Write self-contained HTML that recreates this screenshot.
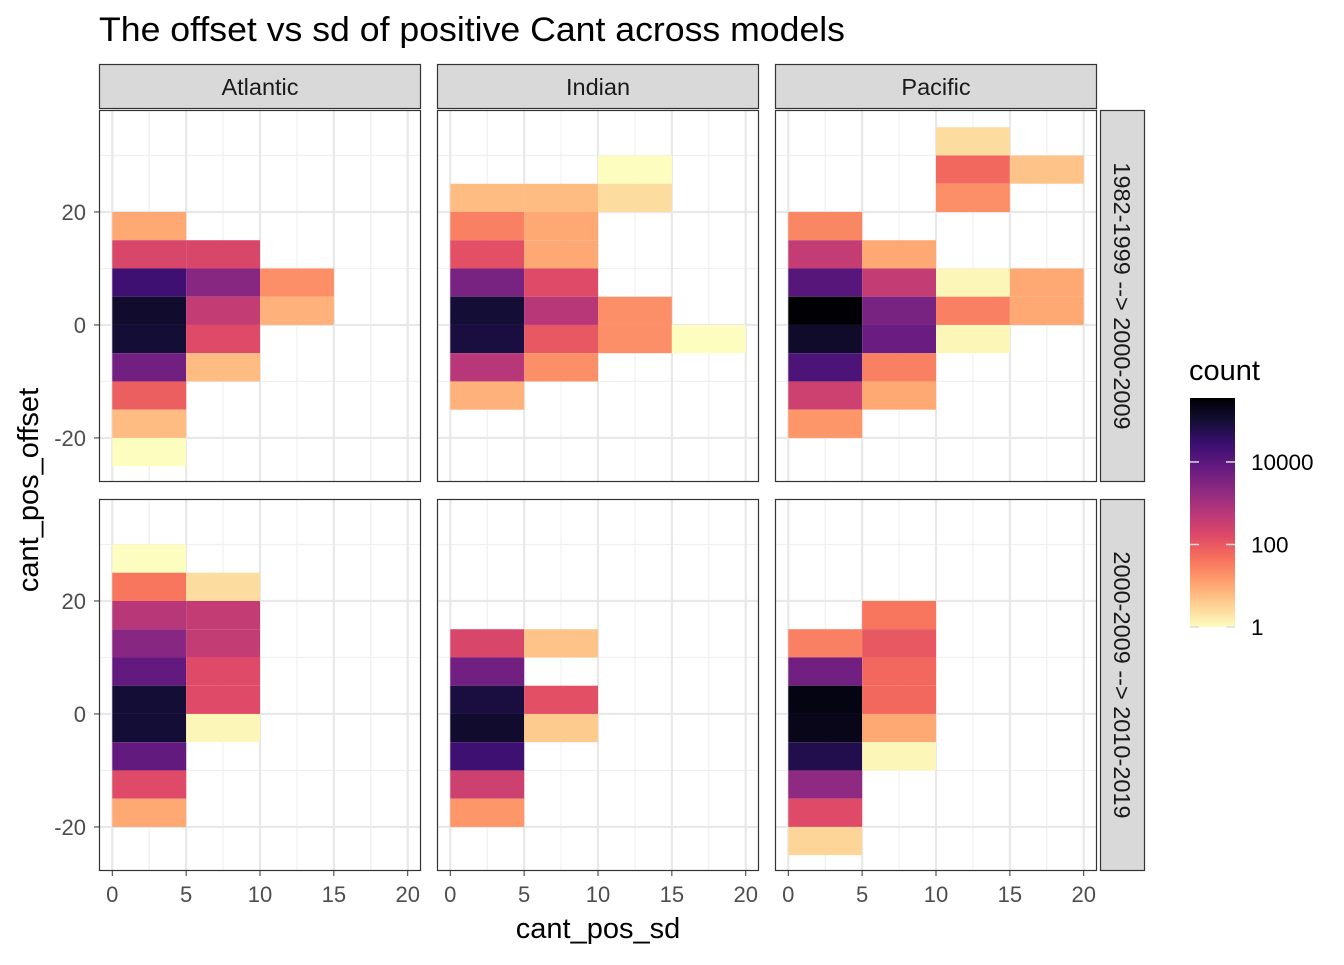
<!DOCTYPE html>
<html><head><meta charset="utf-8"><style>
body{margin:0;background:#fff;}
svg text{font-family:"Liberation Sans",sans-serif;}
</style></head><body>
<svg id="c" width="1344" height="960" xmlns="http://www.w3.org/2000/svg">
<defs><linearGradient id="cb" x1="0" y1="1" x2="0" y2="0"></linearGradient></defs>
<text x="99" y="41" font-size="34" textLength="746" lengthAdjust="spacingAndGlyphs" fill="#000">The offset vs sd of positive Cant across models</text>
<text x="598" y="938" font-size="29" text-anchor="middle">cant_pos_sd</text>
<text transform="translate(38,490) rotate(-90)" font-size="29" text-anchor="middle">cant_pos_offset</text>
<text x="1189" y="380" font-size="29">count</text>
</svg>
<script>
const basins = ["Atlantic","Indian","Pacific"];
const periods = ["1982-1999 --> 2000-2009","2000-2009 --> 2010-2019"];
const xTicks = [0,5,10,15,20];
const yTicks = [-20,0,20];
const legendTicks = [1,100,10000];
const cellPeriod = [];
const cellBasin = [];
const cellSd = [];
const cellOffset = [];
const cellCount = [];
function add(p,b,sd,off,c){cellPeriod.push(p);cellBasin.push(b);cellSd.push(sd);cellOffset.push(off);cellCount.push(c);}
add(0,0,0,15,10);add(0,0,0,10,200);add(0,0,0,5,25000);add(0,0,0,0,120000);add(0,0,0,-5,100000);add(0,0,0,-10,5000);add(0,0,0,-15,80);add(0,0,0,-20,6);add(0,0,0,-25,1);
add(0,0,5,10,200);add(0,0,5,5,2500);add(0,0,5,0,400);add(0,0,5,-5,160);add(0,0,5,-10,6);
add(0,0,10,5,20);add(0,0,10,0,8);
add(0,1,0,20,6);add(0,1,0,15,30);add(0,1,0,10,130);add(0,1,0,5,4000);add(0,1,0,0,100000);add(0,1,0,-5,80000);add(0,1,0,-10,600);add(0,1,0,-15,8);
add(0,1,5,20,6);add(0,1,5,15,10);add(0,1,5,10,10);add(0,1,5,5,160);add(0,1,5,0,600);add(0,1,5,-5,100);add(0,1,5,-10,20);
add(0,1,10,25,1);add(0,1,10,20,2.5);add(0,1,10,0,20);add(0,1,10,-5,20);
add(0,1,15,-5,1);
add(0,2,0,15,25);add(0,2,0,10,400);add(0,2,0,5,12000);add(0,2,0,0,350000);add(0,2,0,-5,130000);add(0,2,0,-10,16000);add(0,2,0,-15,300);add(0,2,0,-20,16);
add(0,2,5,10,10);add(0,2,5,5,400);add(0,2,5,0,4000);add(0,2,5,-5,6300);add(0,2,5,-10,30);add(0,2,5,-15,10);
add(0,2,10,30,2.5);add(0,2,10,25,60);add(0,2,10,20,20);add(0,2,10,5,1.2);add(0,2,10,0,30);add(0,2,10,-5,1.2);
add(0,2,15,25,5);add(0,2,15,5,10);add(0,2,15,0,10);
add(1,0,0,25,1);add(1,0,0,20,40);add(1,0,0,15,600);add(1,0,0,10,2500);add(1,0,0,5,8000);add(1,0,0,0,100000);add(1,0,0,-5,100000);add(1,0,0,-10,8000);add(1,0,0,-15,160);add(1,0,0,-20,10);
add(1,0,5,20,2.5);add(1,0,5,15,400);add(1,0,5,10,400);add(1,0,5,5,160);add(1,0,5,0,160);add(1,0,5,-5,1.2);
add(1,1,0,10,200);add(1,1,0,5,5000);add(1,1,0,0,80000);add(1,1,0,-5,120000);add(1,1,0,-10,25000);add(1,1,0,-15,300);add(1,1,0,-20,16);
add(1,1,5,10,5);add(1,1,5,0,130);add(1,1,5,-5,4);
add(1,2,0,10,30);add(1,2,0,5,5000);add(1,2,0,0,250000);add(1,2,0,-5,200000);add(1,2,0,-10,60000);add(1,2,0,-15,2000);add(1,2,0,-20,160);add(1,2,0,-25,3);
add(1,2,5,15,40);add(1,2,5,10,100);add(1,2,5,5,60);add(1,2,5,0,60);add(1,2,5,-5,10);add(1,2,5,-10,1.2);

const NS="http://www.w3.org/2000/svg";
const svg=document.getElementById('c');
function el(t,a,p){const e=document.createElementNS(NS,t);for(const k in a)e.setAttribute(k,a[k]);(p||svg).appendChild(e);return e;}
const magma=["#000004","#140e36","#3b0f70","#641a80","#8c2981","#b73779","#de4968","#f7705c","#fe9f6d","#fecf92","#fcfdbf"];
function hex(h){return [1,3,5].map(i=>parseInt(h.substr(i,2),16));}
function mg(t){t=Math.max(0,Math.min(1,t));const f=t*10,i=Math.min(9,Math.floor(f)),r=f-i;const a=hex(magma[i]),b=hex(magma[i+1]);return "rgb("+a.map((v,k)=>Math.round(v+(b[k]-v)*r)).join(",")+")";}
const maxLog=5.55;
function color(c){return mg(1-Math.log10(c)/maxLog);}
const panelX=[99,437,775], panelW=322;
const panelY=[110,499], panelH=372;
const xMin=-0.9,xMax=20.9,yMin=-27.8,yMax=38.05;
function sx(b,v){return panelX[b]+(v-xMin)/(xMax-xMin)*panelW;}
function sy(p,v){return panelY[p]+(yMax-v)/(yMax-yMin)*panelH;}
for(let p=0;p<2;p++)for(let b=0;b<3;b++){
  const g=el('g',{});
  
  
  el('rect',{x:panelX[b],y:panelY[p],width:panelW,height:panelH,fill:'#fff'},g);
  for(let v=2.5;v<=17.5;v+=5){el('line',{x1:sx(b,v),x2:sx(b,v),y1:panelY[p],y2:panelY[p]+panelH,stroke:'#f0f0f0','stroke-width':1.2},g);}
  for(let v=-10;v<=30;v+=20){el('line',{x1:panelX[b],x2:panelX[b]+panelW,y1:sy(p,v),y2:sy(p,v),stroke:'#f0f0f0','stroke-width':1.2},g);}
  xTicks.forEach(v=>el('line',{x1:sx(b,v),x2:sx(b,v),y1:panelY[p],y2:panelY[p]+panelH,stroke:'#e8e8e8','stroke-width':2.2},g));
  yTicks.forEach(v=>el('line',{x1:panelX[b],x2:panelX[b]+panelW,y1:sy(p,v),y2:sy(p,v),stroke:'#e8e8e8','stroke-width':2.2},g));
  for(let i=0;i<cellCount.length;i++){
    if(cellPeriod[i]!==p||cellBasin[i]!==b)continue;
    const r=el('rect',{x:sx(b,cellSd[i]),y:sy(p,cellOffset[i]+5),width:sx(b,cellSd[i]+5)-sx(b,cellSd[i]),height:sy(p,cellOffset[i])-sy(p,cellOffset[i]+5),fill:color(cellCount[i])},g);
    
    
  }
  el('rect',{x:panelX[b]+0.5,y:panelY[p]+0.5,width:panelW-1,height:panelH-1,fill:'none',stroke:'#333','stroke-width':1.2},g);
  if(p===1){xTicks.forEach(v=>{el('line',{x1:sx(b,v),x2:sx(b,v),y1:panelY[p]+panelH,y2:panelY[p]+panelH+5,stroke:'#333'},svg);
    const t=el('text',{x:sx(b,v),y:panelY[p]+panelH+31,'font-size':22,fill:'#4d4d4d','text-anchor':'middle'});t.textContent=v;
    });}
  if(b===0){yTicks.forEach(v=>{el('line',{x1:panelX[b]-5,x2:panelX[b],y1:sy(p,v),y2:sy(p,v),stroke:'#333'},svg);
    const t=el('text',{x:panelX[b]-13,y:sy(p,v)+8,'font-size':22,fill:'#4d4d4d','text-anchor':'end'});t.textContent=v;
    });}
}
basins.forEach((n,b)=>{
  const s=el('rect',{x:panelX[b]+0.5,y:64.5,width:panelW-1,height:44,fill:'#d9d9d9',stroke:'#333','stroke-width':1.2});
  
  const t=el('text',{x:panelX[b]+panelW/2,y:95,'font-size':23.5,fill:'#1a1a1a','text-anchor':'middle'});t.textContent=n;
  
});
periods.forEach((n,p)=>{
  const s=el('rect',{x:1100.5,y:panelY[p]+0.5,width:44,height:panelH-1,fill:'#d9d9d9',stroke:'#333','stroke-width':1.2});
  
  const t=el('text',{transform:'translate(1114,'+(panelY[p]+panelH/2)+') rotate(90)','font-size':23.5,fill:'#1a1a1a','text-anchor':'middle'});t.textContent=n;
  
});
const grad=document.getElementById('cb');
for(let i=0;i<=10;i++){el('stop',{offset:i/10,'stop-color':mg(1-i/10)},grad);}
const cbTop=398,cbBot=627;
const lb=el('rect',{x:1190,y:cbTop,width:45,height:cbBot-cbTop,fill:'url(#cb)'});

legendTicks.forEach(v=>{const y=cbBot-Math.log10(v)/maxLog*(cbBot-cbTop);
  el('line',{x1:1190,x2:1199,y1:y,y2:y,stroke:'#ddd','stroke-width':1.5});
  el('line',{x1:1226,x2:1235,y1:y,y2:y,stroke:'#ddd','stroke-width':1.5});
  const t=el('text',{x:1251,y:y+8,'font-size':22.5,fill:'#000'});t.textContent=v;
  });
</script>
</body></html>
